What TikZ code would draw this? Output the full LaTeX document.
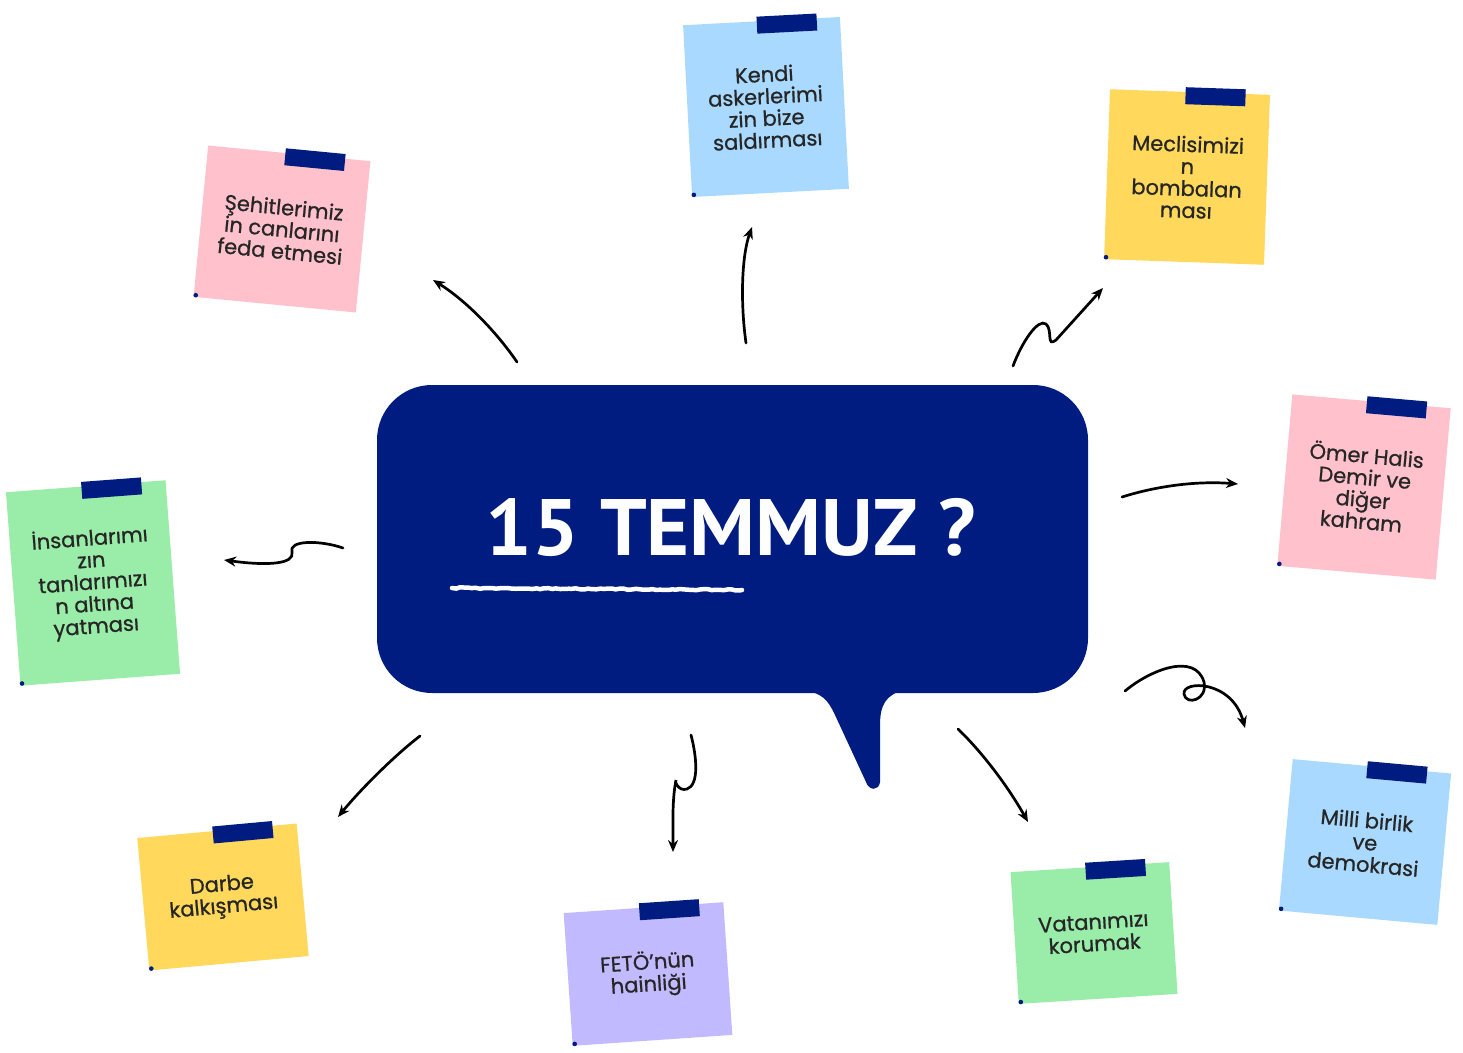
\documentclass[tikz,border=0pt]{standalone}
\usepackage{fontspec}
\setmainfont{Poppins}
\newfontfamily\notefont{Poppins}[RawFeature={embolden=0.8}]
\newfontfamily\titlefont{PT Sans}
\usetikzlibrary{arrows.meta,calc,decorations.pathmorphing}
\definecolor{navy}{HTML}{001C80}
\definecolor{pinknote}{HTML}{FFC2CC}
\definecolor{bluenote}{HTML}{A9D9FF}
\definecolor{yellownote}{HTML}{FFD85C}
\definecolor{greennote}{HTML}{9AEDA8}
\definecolor{purplenote}{HTML}{C1BAFF}
\definecolor{notetext}{HTML}{262626}
\tikzset{
  notebox/.style={rectangle, inner sep=0pt, align=center, text=notetext,
    font=\notefont\fontsize{21}{22}\selectfont},
  tapebox/.style={rectangle, fill=navy, minimum width=60pt, minimum height=17pt, inner sep=0pt},
  conn/.style={line width=2.7pt, line cap=round, -{Stealth[length=12pt,width=10pt]}},
}
\newcommand\stickynote[7]{%
  \node[notebox, fill=#6, minimum width=#3pt, minimum height=#4pt, rotate=#5] (#1) at (#2) {#7};
  \coordinate (#1-t) at ($(#1.north west)!0.66!(#1.north east)$);
  \node[tapebox, rotate=#5] (#1-tape) at ($(#1-t)!4pt!-90:(#1.north east)$) {};
  \fill[navy] ($(#1.south west)!3pt!(#1.north east)$) circle (2.3pt);
}
\begin{document}
\begin{tikzpicture}[x=1pt,y=-1pt]
\fill[white] (0,0) rectangle (1463,1052);
\useasboundingbox (0,0) rectangle (1463,1052);

% central speech bubble
\node[fill=navy, rounded corners=55pt, minimum width=711pt, minimum height=308pt, inner sep=0pt] (bubble) at (732.5,539) {};
\fill[navy] (800,690) .. controls (822,692) and (828,700) .. (835,715) -- (866,782)
  .. controls (869,791) and (879,791) .. (880,782) -- (880,725)
  .. controls (880,705) and (886,694) .. (905,690) -- cycle;
\node[text=white, font=\titlefont\bfseries\fontsize{80}{80}\selectfont, anchor=base, inner sep=0pt] (title) at (731,555) {\scalebox{1.03}[1]{15 TEMMUZ ?}};
\coordinate (ul1) at (452,588);
\coordinate (ul2) at (742,590);
\draw[white, line width=4.5pt, line cap=round, decorate, decoration={random steps, segment length=4pt, amplitude=0.6pt}] (ul1) -- (ul2);

% sticky notes
\stickynote{n1}{282,229}{163}{152}{-5.5}{pinknote}{Şehitlerimiz\\in canlarını\\feda etmesi}
\stickynote{n2}{766,107}{157}{172}{3}{bluenote}{Kendi\\askerlerimi\\zin bize\\saldırması}
\stickynote{n3}{1187,177}{160}{170}{-2}{yellownote}{Meclisimizi\\n\\bombalan\\ması}
\stickynote{n4}{1364,487}{159}{172}{-5}{pinknote}{Ömer Halis\\Demir ve\\diğer\\kahram}
\stickynote{n5}{93,583}{160}{194}{4.3}{greennote}{İnsanlarımı\\zın\\tanlarımızı\\n altına\\yatması}
\stickynote{n6}{1365,842}{159}{152}{-5.2}{bluenote}{Milli birlik\\ve\\demokrasi}
\stickynote{n7}{223,897}{160}{133}{5.2}{yellownote}{Darbe\\kalkışması}
\stickynote{n8}{648,974}{160}{133}{3.9}{purplenote}{FETÖ’nün\\hainliği}
\stickynote{n9}{1094,933}{159}{132}{3.6}{greennote}{Vatanımızı\\korumak}

% connectors
\coordinate (a1s) at (517,362); \coordinate (a1e) at (433,280);
\draw[conn] (a1s) .. controls (495,330) and (465,300) .. (a1e);
\coordinate (a2s) at (746,343); \coordinate (a2e) at (752,227);
\draw[conn] (a2s) .. controls (740,300) and (742,255) .. (a2e);
\coordinate (a3s) at (1013,366); \coordinate (a3e) at (1103,288);
\draw[conn] (a3s) .. controls (1022,342) and (1038,318) .. (1046,324)
  .. controls (1053,330) and (1046,348) .. (1056,340) -- (a3e);
\coordinate (a4s) at (1122,497); \coordinate (a4e) at (1238,484);
\draw[conn] (a4s) .. controls (1160,485) and (1200,481) .. (a4e);
\coordinate (a5s) at (1125,691); \coordinate (a5e) at (1245,728);
\draw[conn] (a5s) .. controls (1150,670) and (1195,652) .. (1204,682)
  .. controls (1208,700) and (1186,706) .. (1184,694)
  .. controls (1182,680) and (1232,680) .. (a5e);
\coordinate (a6s) at (958,729); \coordinate (a6e) at (1028,822);
\draw[conn] (a6s) .. controls (985,755) and (1010,790) .. (a6e);
\coordinate (a7s) at (691,735); \coordinate (a7e) at (673,852);
\draw[conn] (a7s) .. controls (697,758) and (699,785) .. (687,789)
  .. controls (678,792) and (674,780) .. (676,780)
  .. controls (672,800) and (673,825) .. (a7e);
\coordinate (a8s) at (420,736); \coordinate (a8e) at (338,817);
\draw[conn] (a8s) .. controls (395,755) and (360,790) .. (a8e);
\coordinate (a9s) at (343,548); \coordinate (a9e) at (224,560);
\draw[conn] (a9s) .. controls (320,540) and (288,540) .. (292,552)
  .. controls (295,564) and (268,566) .. (a9e);
\end{tikzpicture}
\end{document}
